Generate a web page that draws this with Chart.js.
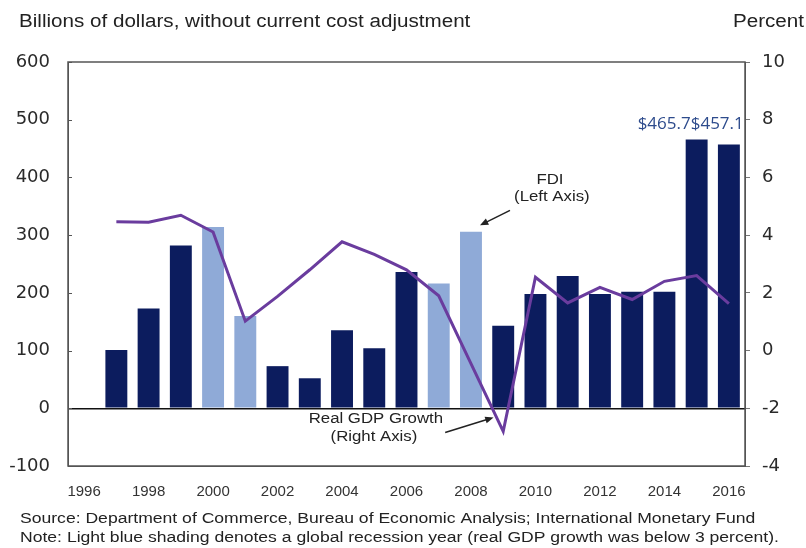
<!DOCTYPE html>
<html>
<head>
<meta charset="utf-8">
<script src="https://cdn.jsdelivr.net/npm/chart.js@4/dist/chart.umd.min.js"></script>
<style>
  html, body { margin: 0; padding: 0; background: #fff; }
  canvas { display: block; }
</style>
</head>
<body>
<canvas id="fdiChart" width="806" height="548"></canvas>
<script>
// data
const years = ['1996', '1997', '1998', '1999', '2000', '2001', '2002', '2003', '2004', '2005', '2006',
               '2007', '2008', '2009', '2010', '2011', '2012', '2013', '2014', '2015', '2016'];
const fdiValues = [null, 101, 173, 282, 314, 160, 73, 52, 135, 104, 236,
                   216, 306, 143, 198, 229, 198, 202, 202, 465.7, 457.1];
const gdpGrowth = [null, 4.46, 4.45, 4.69, 4.11, 1.02, 1.88, 2.8, 3.77, 3.33, 2.8,
                   1.9, -0.45, -2.8, 2.54, 1.65, 2.19, 1.77, 2.4, 2.6, 1.63];
const recessionYears = ['2000', '2001', '2007', '2008'];
const barLabels = { '2015': '$465.7', '2016': '$457.1' };
const leftTicks = [-100, 600, 100];   // min, max, step
const rightTicks = [-4, 10, 2];

const DARK = '#0c1c5e';
const LIGHT = '#8faad7';
const LINE = '#6a3c9e';
const ARIAL = '"Liberation Sans", Arial, sans-serif';

const barColors = years.map(y => recessionYears.includes(y) ? LIGHT : DARK);

// the reference text is drawn a bit wide, so stretch it horizontally
function wideText(ctx, text, x, y, sx, align) {
    ctx.save();
    ctx.translate(x, y);
    ctx.scale(sx, 1);
    ctx.textAlign = align || 'left';
    ctx.fillText(text, 0, 0);
    ctx.restore();
}

const decorations = {
    id: 'decorations',
    afterDatasetsDraw(chart) {
        const { ctx, chartArea: a, scales } = chart;
        const x = scales.x, yl = scales.y;
        ctx.save();

        // inward tick marks on the left axis
        ctx.strokeStyle = '#555';
        ctx.lineWidth = 1;
        for (let v = leftTicks[0]; v <= leftTicks[1]; v += leftTicks[2]) {
            const py = Math.round(yl.getPixelForValue(v)) + 0.5;
            ctx.beginPath();
            ctx.moveTo(a.left, py);
            ctx.lineTo(a.left + 4, py);
            ctx.stroke();
        }

        // value labels for the last two bars, written one after the other
        ctx.font = '17px "Open Sans", sans-serif';
        ctx.fillStyle = '#2d4b8c';
        ctx.textAlign = 'left';
        ctx.textBaseline = 'alphabetic';
        let cursor = null;
        Object.keys(barLabels).forEach(yr => {
            const i = years.indexOf(yr);
            const txt = barLabels[yr];
            const px = cursor === null ? x.getPixelForValue(i) - 59 : cursor;
            ctx.fillText(txt, px, 129);
            cursor = px + ctx.measureText(txt).width;
        });

        // frame
        ctx.strokeStyle = '#555';
        ctx.lineWidth = 1.5;
        ctx.strokeRect(a.left, a.top, a.right - a.left, a.bottom - a.top);

        // callouts
        ctx.fillStyle = '#222';
        ctx.font = '14px ' + ARIAL;
        ctx.textBaseline = 'middle';
        wideText(ctx, 'FDI', x.getPixelForValue(14.45), yl.getPixelForValue(396), 1.2, 'center');
        wideText(ctx, '(Left Axis)', x.getPixelForValue(14.51), yl.getPixelForValue(365), 1.2, 'center');
        wideText(ctx, 'Real GDP Growth', x.getPixelForValue(9.05), yl.getPixelForValue(-19), 1.2, 'center');
        wideText(ctx, '(Right Axis)', x.getPixelForValue(8.99), yl.getPixelForValue(-50), 1.2, 'center');

        const arrow = (x0, y0, x1, y1) => {
            const p0 = [x.getPixelForValue(x0), yl.getPixelForValue(y0)];
            const p1 = [x.getPixelForValue(x1), yl.getPixelForValue(y1)];
            const ang = Math.atan2(p1[1] - p0[1], p1[0] - p0[0]);
            ctx.strokeStyle = '#222';
            ctx.fillStyle = '#222';
            ctx.lineWidth = 1.5;
            ctx.beginPath();
            ctx.moveTo(p0[0], p0[1]);
            ctx.lineTo(p1[0] - 6 * Math.cos(ang), p1[1] - 6 * Math.sin(ang));
            ctx.stroke();
            ctx.beginPath();
            ctx.moveTo(p1[0], p1[1]);
            ctx.lineTo(p1[0] - 9 * Math.cos(ang - 0.4), p1[1] - 9 * Math.sin(ang - 0.4));
            ctx.lineTo(p1[0] - 9 * Math.cos(ang + 0.4), p1[1] - 9 * Math.sin(ang + 0.4));
            ctx.closePath();
            ctx.fill();
        };
        arrow(13.21, 343, 12.28, 317);
        arrow(11.2, -42, 12.7, -16);

        // axis titles and notes
        ctx.fillStyle = '#222';
        ctx.textBaseline = 'alphabetic';
        ctx.font = '18px ' + ARIAL;
        wideText(ctx, 'Billions of dollars, without current cost adjustment', 19, 27, 1.145, 'left');
        wideText(ctx, 'Percent', 804, 27, 1.145, 'right');

        ctx.font = '14px ' + ARIAL;
        wideText(ctx, 'Source: Department of Commerce, Bureau of Economic Analysis; International Monetary Fund', 20, 523, 1.255, 'left');
        wideText(ctx, 'Note: Light blue shading denotes a global recession year (real GDP growth was below 3 percent).', 20, 541.5, 1.255, 'left');
        ctx.restore();
    }
};

new Chart(document.getElementById('fdiChart').getContext('2d'), {
    data: {
        labels: years,
        datasets: [
            {
                type: 'line',
                label: 'Real GDP Growth',
                data: gdpGrowth,
                yAxisID: 'y1',
                borderColor: LINE,
                borderWidth: 3,
                pointRadius: 0,
                tension: 0,
                order: 0
            },
            {
                type: 'bar',
                label: 'FDI',
                data: fdiValues,
                yAxisID: 'y',
                backgroundColor: barColors,
                barPercentage: 0.68,
                categoryPercentage: 1.0,
                order: 1
            }
        ]
    },
    options: {
        responsive: false,
        animation: false,
        layout: { padding: { top: 62, left: 0, right: 0, bottom: 0 } },
        plugins: {
            legend: { display: false },
            tooltip: { enabled: false }
        },
        scales: {
            x: {
                type: 'category',
                offset: true,
                grid: { display: false, drawTicks: false },
                border: { display: true, color: '#555' },
                ticks: {
                    autoSkip: false,
                    maxRotation: 0,
                    padding: 17,
                    color: '#333',
                    font: { family: ARIAL, size: 15 },
                    callback: function (val, idx) {
                        const y = years[idx];
                        return Number(y) % 2 === 0 ? y : '';
                    }
                },
                afterFit(scale) { scale.height = 82; }
            },
            y: {
                position: 'left',
                min: leftTicks[0],
                max: leftTicks[1],
                ticks: {
                    stepSize: leftTicks[2],
                    padding: 18,
                    color: '#2a2a2a',
                    font: { family: '"DejaVu Sans", sans-serif', size: 18 }
                },
                grid: {
                    drawTicks: false,
                    color: ctx => ctx.tick && ctx.tick.value === 0 ? '#111' : 'rgba(0,0,0,0)',
                    lineWidth: 1.5
                },
                border: { display: true, color: '#555' },
                afterFit(scale) { scale.width = 68; }
            },
            y1: {
                position: 'right',
                min: rightTicks[0],
                max: rightTicks[1],
                ticks: {
                    stepSize: rightTicks[2],
                    padding: 12,
                    color: '#2a2a2a',
                    font: { family: '"DejaVu Sans", sans-serif', size: 18 }
                },
                grid: { drawOnChartArea: false, tickLength: 5, tickColor: '#777' },
                border: { display: true, color: '#555' },
                afterFit(scale) { scale.width = 61; }
            }
        }
    },
    plugins: [decorations]
});
</script>
</body>
</html>
